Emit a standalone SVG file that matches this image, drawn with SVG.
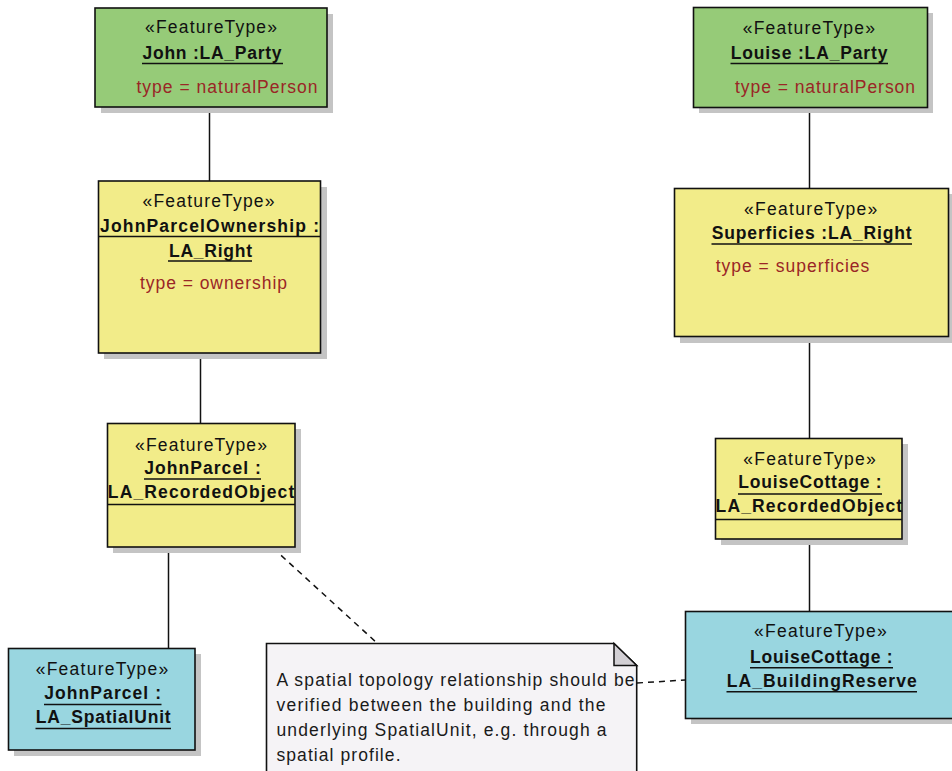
<svg xmlns="http://www.w3.org/2000/svg" width="952" height="771" viewBox="0 0 952 771">
  <style>
    text { font-family: "Liberation Sans", Arial, sans-serif; font-size: 17.5px; fill: #111; }
    .name { font-weight: bold; }
    .attr { fill: #9a2626; }
    .note-text { fill: #1a1a1a; }
    .shadow { fill: #c4c4c4; }
    .box { stroke: #111; stroke-width: 1.6; }
    .party { fill: #96cb78; }
    .right { fill: #f2ec89; }
    .object { fill: #f2ec89; }
    .spatial { fill: #99d6e0; }
    .uline { stroke: #111; stroke-width: 1.5; }
    .link { stroke: #111; stroke-width: 1.5; fill: none; }
    .dash { stroke: #111; stroke-width: 1.5; fill: none; stroke-dasharray: 6 5; }
  </style>

  <!-- associations and note links -->
  <g id="connectors">
    <line class="link" x1="209.5" y1="107" x2="209.5" y2="181"/>
    <line class="link" x1="200.5" y1="353" x2="200.5" y2="423"/>
    <line class="link" x1="168.5" y1="547" x2="168.5" y2="648"/>
    <line class="link" x1="809.5" y1="107" x2="809.5" y2="188"/>
    <line class="link" x1="809.5" y1="337" x2="809.5" y2="438"/>
    <line class="link" x1="809.5" y1="539" x2="809.5" y2="611"/>
    <line class="dash" x1="273" y1="548" x2="377" y2="643"/>
    <line class="dash" x1="637" y1="683" x2="685" y2="680"/>
  </g>

  <!-- John : LA_Party -->
  <g id="john-party">
    <rect class="shadow" x="101" y="14" width="232" height="99"/>
    <rect class="box party" x="95" y="8" width="232" height="99"/>
    <text x="145" y="33" textLength="132" lengthAdjust="spacing">«FeatureType»</text>
    <text class="name" x="142.5" y="59" textLength="139" lengthAdjust="spacing">John :LA_Party</text>
    <line class="uline" x1="142" y1="63.5" x2="283" y2="63.5"/>
    <text class="attr" x="136.5" y="93" textLength="181" lengthAdjust="spacing">type = naturalPerson</text>
  </g>

  <!-- JohnParcelOwnership : LA_Right -->
  <g id="john-ownership">
    <rect class="shadow" x="104" y="187" width="223" height="172"/>
    <rect class="box right" x="98.5" y="181" width="222" height="172"/>
    <text x="142.5" y="206.5" textLength="132" lengthAdjust="spacing">«FeatureType»</text>
    <text class="name" x="100" y="231.5" textLength="219" lengthAdjust="spacing">JohnParcelOwnership :</text>
    <line class="uline" x1="99" y1="236.5" x2="320" y2="236.5"/>
    <text class="name" x="169" y="257" textLength="83" lengthAdjust="spacing">LA_Right</text>
    <line class="uline" x1="168" y1="261" x2="252" y2="261"/>
    <text class="attr" x="140" y="289" textLength="147" lengthAdjust="spacing">type = ownership</text>
  </g>

  <!-- JohnParcel : LA_RecordedObject -->
  <g id="john-parcel">
    <rect class="shadow" x="113" y="429" width="188" height="124"/>
    <rect class="box object" x="107.5" y="423.5" width="187.5" height="123.5"/>
    <text x="135" y="451" textLength="132" lengthAdjust="spacing">«FeatureType»</text>
    <text class="name" x="144.3" y="474.3" textLength="116.5" lengthAdjust="spacing">JohnParcel :</text>
    <line class="uline" x1="144" y1="479" x2="261" y2="479"/>
    <text class="name" x="107.8" y="497.7" textLength="186.5" lengthAdjust="spacing">LA_RecordedObject</text>
    <line class="uline" x1="107.5" y1="504.5" x2="295" y2="504.5"/>
  </g>

  <!-- JohnParcel : LA_SpatialUnit -->
  <g id="john-spatial">
    <rect class="shadow" x="14" y="654" width="187" height="102"/>
    <rect class="box spatial" x="8.5" y="648.5" width="186.5" height="101.5"/>
    <text x="35.7" y="675" textLength="132.6" lengthAdjust="spacing">«FeatureType»</text>
    <text class="name" x="44.3" y="699.3" textLength="116.7" lengthAdjust="spacing">JohnParcel :</text>
    <line class="uline" x1="44" y1="704.5" x2="161.5" y2="704.5"/>
    <text class="name" x="35.7" y="723.3" textLength="135" lengthAdjust="spacing">LA_SpatialUnit</text>
    <line class="uline" x1="35.5" y1="728.5" x2="171" y2="728.5"/>
  </g>

  <!-- Louise : LA_Party -->
  <g id="louise-party">
    <rect class="shadow" x="699" y="13" width="234" height="100"/>
    <rect class="box party" x="693.5" y="7.5" width="234" height="100"/>
    <text x="742.7" y="34" textLength="132.3" lengthAdjust="spacing">«FeatureType»</text>
    <text class="name" x="730.7" y="59.3" textLength="156.7" lengthAdjust="spacing">Louise :LA_Party</text>
    <line class="uline" x1="730.5" y1="63.5" x2="888" y2="63.5"/>
    <text class="attr" x="735" y="92.7" textLength="180" lengthAdjust="spacing">type = naturalPerson</text>
  </g>

  <!-- Superficies : LA_Right -->
  <g id="superficies">
    <rect class="shadow" x="680" y="194" width="275" height="149"/>
    <rect class="box right" x="674.5" y="188.5" width="274" height="148"/>
    <text x="744" y="215" textLength="133.3" lengthAdjust="spacing">«FeatureType»</text>
    <text class="name" x="711.7" y="239.3" textLength="200" lengthAdjust="spacing">Superficies :LA_Right</text>
    <line class="uline" x1="711.5" y1="244" x2="912" y2="244"/>
    <text class="attr" x="715.7" y="271.7" textLength="153.6" lengthAdjust="spacing">type = superficies</text>
  </g>

  <!-- LouiseCottage : LA_RecordedObject -->
  <g id="louise-cottage">
    <rect class="shadow" x="721" y="444" width="187" height="101"/>
    <rect class="box object" x="715.5" y="438.5" width="186.5" height="100.5"/>
    <text x="743.3" y="465" textLength="132.4" lengthAdjust="spacing">«FeatureType»</text>
    <text class="name" x="738.3" y="488.3" textLength="143.4" lengthAdjust="spacing">LouiseCottage :</text>
    <line class="uline" x1="738" y1="494" x2="882" y2="494"/>
    <text class="name" x="715.6" y="511.7" textLength="186.5" lengthAdjust="spacing">LA_RecordedObject</text>
    <line class="uline" x1="715.5" y1="519.5" x2="902" y2="519.5"/>
  </g>

  <!-- LouiseCottage : LA_BuildingReserve -->
  <g id="louise-building">
    <rect class="shadow" x="691" y="617" width="280" height="107"/>
    <rect class="box spatial" x="685.5" y="611.5" width="280" height="107"/>
    <text x="754" y="636.7" textLength="132.7" lengthAdjust="spacing">«FeatureType»</text>
    <text class="name" x="750" y="663.3" textLength="142.7" lengthAdjust="spacing">LouiseCottage :</text>
    <line class="uline" x1="750" y1="667.7" x2="893" y2="667.7"/>
    <text class="name" x="726.7" y="686.7" textLength="190" lengthAdjust="spacing">LA_BuildingReserve</text>
    <line class="uline" x1="726.5" y1="691.7" x2="917" y2="691.7"/>
  </g>

  <!-- note -->
  <g id="topology-note">
    <path d="M266.5,643.5 H614 L636.7,665.5 V780 H266.5 Z" fill="#f5f3f6" stroke="#111" stroke-width="1.6"/>
    <path d="M614,643.5 V665.5 H636.7 Z" fill="#d2cfd4" stroke="#111" stroke-width="1.5" stroke-linejoin="miter"/>
    <text class="note-text" x="276.5" y="686" textLength="358" lengthAdjust="spacing">A spatial topology relationship should be</text>
    <text class="note-text" x="276.5" y="711" textLength="329" lengthAdjust="spacing">verified between the building and the</text>
    <text class="note-text" x="276.5" y="736" textLength="330" lengthAdjust="spacing">underlying SpatialUnit, e.g. through a</text>
    <text class="note-text" x="276.5" y="760.5" textLength="124" lengthAdjust="spacing">spatial profile.</text>
  </g>
</svg>
